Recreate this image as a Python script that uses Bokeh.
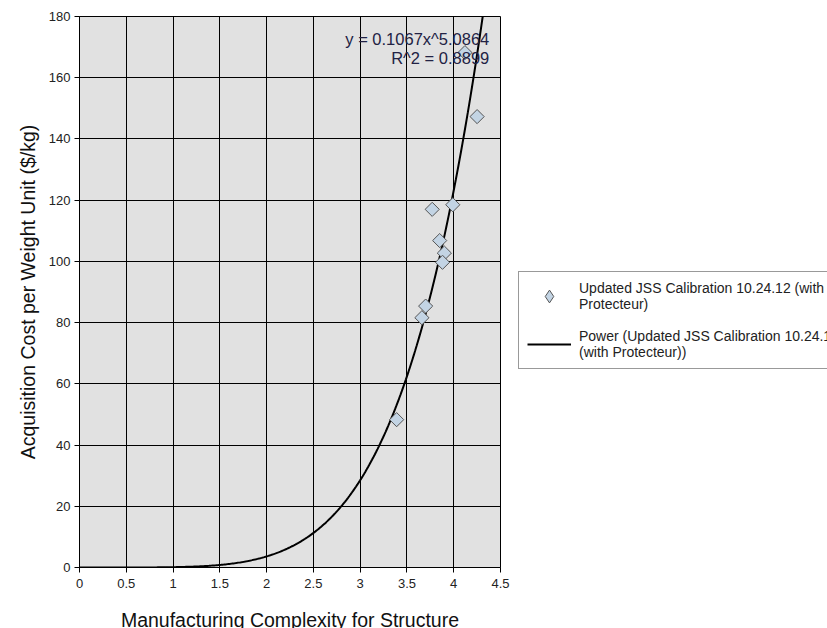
from bokeh.plotting import figure
from bokeh.models import (Legend, LegendItem, Label, FixedTicker, Range1d,
                          ColumnDataSource, CDSView, IndexFilter)
from bokeh.embed import file_html
from bokeh.resources import INLINE
import numpy as np

# ---- data ----
complexity = [3.39, 3.66, 3.70, 3.77, 3.85, 3.90, 3.88, 3.99, 4.25, 4.12]
cost = [48.3, 81.6, 85.4, 117.0, 106.8, 102.7, 99.7, 118.5, 147.3, 168.2]
fit_a = 0.1067
fit_b = 5.0864
fit_r2 = 0.8899
x_ticks = [0, 0.5, 1, 1.5, 2, 2.5, 3, 3.5, 4, 4.5]
x_tick_labels = ["0", "0.5", "1", "1.5", "2", "2.5", "3", "3.5", "4", "4.5"]
y_ticks = [0, 20, 40, 60, 80, 100, 120, 140, 160, 180]
series_label = "Updated JSS Calibration 10.24.12 (with\nProtecteur)"
trend_label = "Power (Updated JSS Calibration 10.24.12\n(with Protecteur))"
x_title = "Manufacturing Complexity for Structure"
y_title = "Acquisition Cost per Weight Unit ($/kg)"

FONT = "Liberation Sans"
PT_FILL = "#c3d4e4"
PT_LINE = "#555555"

p = figure(width=827, height=628, output_backend="svg", toolbar_location=None,
           x_range=Range1d(0, 4.5), y_range=Range1d(0, 180))
p.frame_width = 421
p.frame_height = 551
p.min_border_left = 79
p.min_border_top = 16
p.min_border_right = 10
p.min_border_bottom = 61

p.background_fill_color = "#e1e1e1"
p.border_fill_color = "white"
p.outline_line_color = "black"
p.outline_line_width = 1

# grid
p.xgrid.ticker = FixedTicker(ticks=x_ticks)
p.ygrid.ticker = FixedTicker(ticks=y_ticks)
for g in (p.xgrid, p.ygrid):
    g.grid_line_color = "black"
    g.grid_line_width = 1

# axes
p.xaxis.ticker = FixedTicker(ticks=x_ticks)
p.xaxis.major_label_overrides = {t: l for t, l in zip(x_ticks, x_tick_labels)}
p.yaxis.ticker = FixedTicker(ticks=y_ticks)
for ax in (p.xaxis, p.yaxis):
    ax.axis_line_color = "black"
    ax.major_tick_line_color = "black"
    ax.major_tick_in = 0
    ax.major_tick_out = 5
    ax.minor_tick_line_color = None
    ax.major_label_text_font = FONT
    ax.major_label_text_font_size = "13px"
    ax.major_label_text_color = "#222222"
    ax.axis_label_text_font = FONT
    ax.axis_label_text_font_size = "19.5px"
    ax.axis_label_text_font_style = "normal"
    ax.axis_label_text_color = "#111111"
p.xaxis.axis_label = x_title
p.yaxis.axis_label = y_title
p.xaxis.major_label_standoff = 6
p.xaxis.axis_label_standoff = 18
p.yaxis.major_label_standoff = 4
p.yaxis.axis_label_standoff = 7

# trend line from the fitted power equation
x_end = (180 / fit_a) ** (1 / fit_b)
xs = np.linspace(0, x_end, 300)
ys = fit_a * xs ** fit_b
trend = p.line(xs, ys, line_color="black", line_width=2)

src = ColumnDataSource(data=dict(x=complexity, y=cost))
# diamond swatch for the legend; drawn under the first point, which hides it
swatch = p.scatter("x", "y", source=src, view=CDSView(filter=IndexFilter(indices=[0])),
                   marker="diamond", size=13,
                   fill_color=PT_FILL, line_color=PT_LINE, line_width=1)
pts = p.scatter("x", "y", source=src, marker="square", angle=np.pi / 4, size=10,
                fill_color=PT_FILL, line_color=PT_LINE, line_width=1)

# equation labels
eq1 = Label(x=4.38, y=172.8, text=f"y = {fit_a}x^{fit_b}", text_align="right",
            text_baseline="middle", text_font=FONT, text_font_size="16.5px",
            text_color="#222244")
eq2 = Label(x=4.38, y=166.6, text=f"R^2 = {fit_r2}", text_align="right",
            text_baseline="middle", text_font=FONT, text_font_size="16.5px",
            text_color="#222244")
p.add_layout(eq1)
p.add_layout(eq2)

legend = Legend(items=[LegendItem(label=series_label, renderers=[swatch]),
                       LegendItem(label=trend_label, renderers=[trend])],
                location=(18, 198))
legend.label_text_font = FONT
legend.label_text_font_size = "14px"
legend.label_text_color = "#222222"
legend.glyph_width = 44
legend.glyph_height = 32
legend.label_standoff = 8
legend.padding = 8
legend.spacing = 16
legend.margin = 0
legend.border_line_color = "#333333"
legend.border_line_width = 1
legend.background_fill_color = "white"
legend.background_fill_alpha = 1
p.add_layout(legend, "right")

open("out.html", "w").write(file_html(p, INLINE))
